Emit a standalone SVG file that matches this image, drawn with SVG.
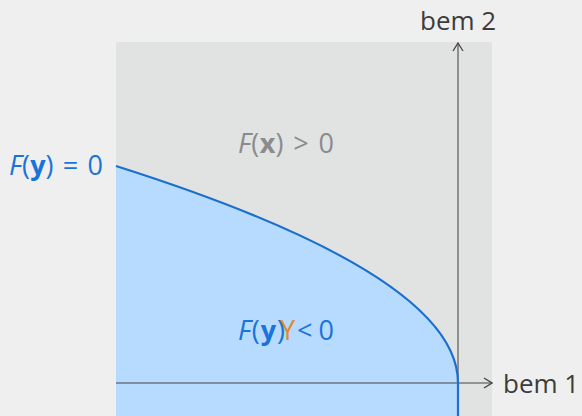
<svg xmlns="http://www.w3.org/2000/svg" width="582" height="416" viewBox="0 0 582 416">
<style>
.t{font-family:"Open Sans","Noto Sans",sans-serif;font-size:26px}
.m{font-size:27px;word-spacing:2px}
.blue{fill:#1a73d8}
.grey{fill:#8a8c8c}
.ax{fill:#3c3c3c}
.i{font-style:italic}
.b{font-weight:bold}
</style>
<defs>
<marker id="arr" markerWidth="10" markerHeight="12" refX="9" refY="6" orient="auto" markerUnits="userSpaceOnUse">
<path d="M1,1 L9,6 L1,11" fill="none" stroke="#444" stroke-width="1.3"/>
</marker>
</defs>
<rect width="582" height="416" fill="#efefef"/>
<g id="region-positive"><rect x="116" y="42" width="376" height="374" fill="#e1e3e2"/></g>
<g id="region-negative"><path d="M116,166 Q458,274.5 458,383 L458,416 L116,416 Z" fill="#b6dbff"/></g>
<g id="connectors">
<line x1="116" y1="383" x2="492" y2="383" stroke="#444" stroke-width="1.2" marker-end="url(#arr)"/>
<line x1="458" y1="416" x2="458" y2="43" stroke="#555" stroke-width="1.2" marker-end="url(#arr)"/>
<path d="M116,166 Q458,274.5 458,383 L458,416" fill="none" stroke="#1a6fce" stroke-width="2.2"/>
</g>
<g id="label-curve"><text class="t m blue" x="9" y="175" textLength="94"><tspan class="i">F</tspan>(<tspan class="b">y</tspan>) = 0</text></g>
<g id="label-pos"><text class="t m grey" x="238" y="153" textLength="96"><tspan class="i">F</tspan>(<tspan class="b">x</tspan>) &gt; 0</text></g>
<g id="label-neg"><text class="t m blue" x="238" y="340" textLength="47"><tspan class="i">F</tspan>(<tspan class="b">y</tspan>)</text><text class="t m" x="280" y="340" fill="#e08a2e">Y</text><text class="t m blue" x="297" y="340" textLength="37">&lt; 0</text></g>
<g id="axis-2"><text class="t ax" x="420" y="30">bem 2</text></g>
<g id="axis-1"><text class="t ax" x="503" y="393">bem 1</text></g>
</svg>
